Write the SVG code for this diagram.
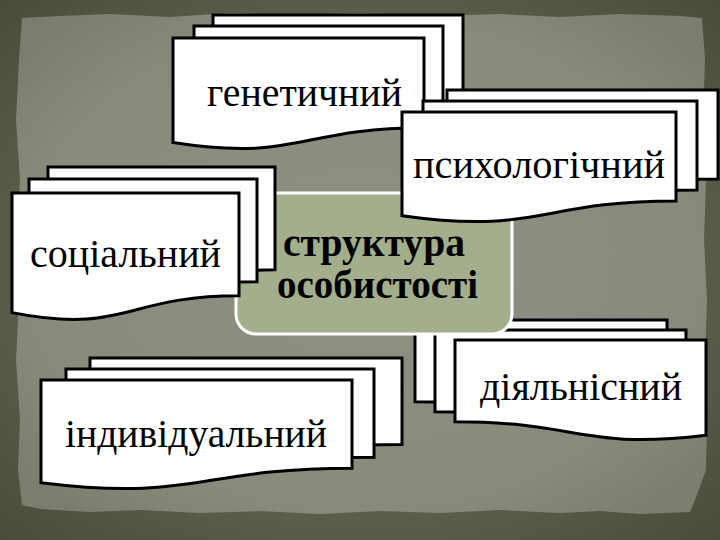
<svg xmlns="http://www.w3.org/2000/svg" width="720" height="540" viewBox="0 0 720 540">
  <defs>
    <radialGradient id="paper" cx="50%" cy="50%" r="65%">
      <stop offset="0" stop-color="#8f9083"/>
      <stop offset="0.75" stop-color="#888a7c"/>
      <stop offset="1" stop-color="#7b7e6e"/>
    </radialGradient>
    <radialGradient id="outer" cx="50%" cy="50%" r="75%">
      <stop offset="0.6" stop-color="#5a5f4b"/>
      <stop offset="1" stop-color="#454a36"/>
    </radialGradient>
  </defs>
  <style>
    .sheet { fill: #ffffff; stroke: #000000; stroke-width: 3; stroke-linejoin: miter; }
    .lbl { font-family: "Liberation Serif", "Times New Roman", serif; font-size: 40px; fill: #000000; }
    .title { font-family: "Liberation Serif", "Times New Roman", serif; font-size: 40px; font-weight: bold; fill: #000000; }
    .center { fill: #a3ae8d; stroke: #ffffff; stroke-width: 3; }
  </style>

  <g id="background">
    <rect x="0" y="0" width="720" height="540" fill="url(#outer)"/>
    <path fill="url(#paper)" d="M22,18 L60,16 L110,14 L170,17 L230,13 L300,15 L360,13 L430,16 L500,14 L560,17 L620,14 L680,16 L702,18 L705,60 L703,120 L706,180 L704,240 L707,300 L705,360 L707,420 L706,470 L695,500 L690,512 L640,514 L600,511 L560,513 L500,510 L440,513 L380,511 L320,514 L260,511 L200,513 L140,510 L90,512 L40,509 L22,505 L18,470 L20,420 L16,360 L19,300 L17,240 L20,180 L16,120 L19,60 Z"/>
  </g>

  <g id="node-diyalnisnyi">
    <path class="sheet" d="M415,320 H667 V415.3 C541,430.2 541,401.8 415,401.8 Z"/>
    <path class="sheet" d="M435,330 H686 V425.3 C560.5,440.2 560.5,411.8 435,411.8 Z"/>
    <path class="sheet" d="M455,340 H706 V435.3 C580.5,450.2 580.5,421.8 455,421.8 Z"/>
    <text class="lbl" x="480" y="400" textLength="202" lengthAdjust="spacingAndGlyphs">діяльнісний</text>
  </g>

  <g id="node-indyvidualnyi">
    <path class="sheet" d="M90,358 H402 V444.6 C246,444.6 246,477.7 90,458.9 Z"/>
    <path class="sheet" d="M66,369 H374 V457.2 C220,457.2 220,490.9 66,471.7 Z"/>
    <path class="sheet" d="M41,380 H352 V468.2 C196.5,468.2 196.5,501.9 41,482.7 Z"/>
    <text class="lbl" x="65" y="447" textLength="262" lengthAdjust="spacingAndGlyphs">індивідуальний</text>
  </g>

  <g id="node-center">
    <rect class="center" x="236" y="193" width="276" height="141" rx="20" ry="20"/>
    <text class="title" x="283" y="256" textLength="182" lengthAdjust="spacingAndGlyphs">структура</text>
    <text class="title" x="277" y="298" textLength="201" lengthAdjust="spacingAndGlyphs">особистості</text>
  </g>

  <g id="node-sotsialnyi">
    <path class="sheet" d="M48,167 H275 V269.7 C161.5,269.7 161.5,308.8 48,286.6 Z"/>
    <path class="sheet" d="M29,179 H257 V281.7 C143,281.7 143,320.8 29,298.6 Z"/>
    <path class="sheet" d="M12,193 H239 V295.7 C125.5,295.7 125.5,334.8 12,312.6 Z"/>
    <text class="lbl" x="30" y="267" textLength="191" lengthAdjust="spacingAndGlyphs">соціальний</text>
  </g>

  <g id="node-henetychnyi">
    <path class="sheet" d="M213,15 H463 V104.8 C338,104.8 338,139.1 213,119.6 Z"/>
    <path class="sheet" d="M194,26 H443 V115.8 C318.5,115.8 318.5,150.1 194,130.6 Z"/>
    <path class="sheet" d="M173,38 H424 V127.8 C298.5,127.8 298.5,162.1 173,142.6 Z"/>
    <text class="lbl" x="207" y="106" textLength="195" lengthAdjust="spacingAndGlyphs">генетичний</text>
  </g>

  <g id="node-psykholohichnyi">
    <path class="sheet" d="M447,90 H718 V179 C582.5,179 582.5,213 447,193.7 Z"/>
    <path class="sheet" d="M423,101 H697 V190 C560,190 560,224 423,204.7 Z"/>
    <path class="sheet" d="M402,112 H676 V201 C539,201 539,235 402,215.7 Z"/>
    <text class="lbl" x="413" y="178" textLength="252" lengthAdjust="spacingAndGlyphs">психологічний</text>
  </g>

  <g id="connectors"></g>
</svg>
